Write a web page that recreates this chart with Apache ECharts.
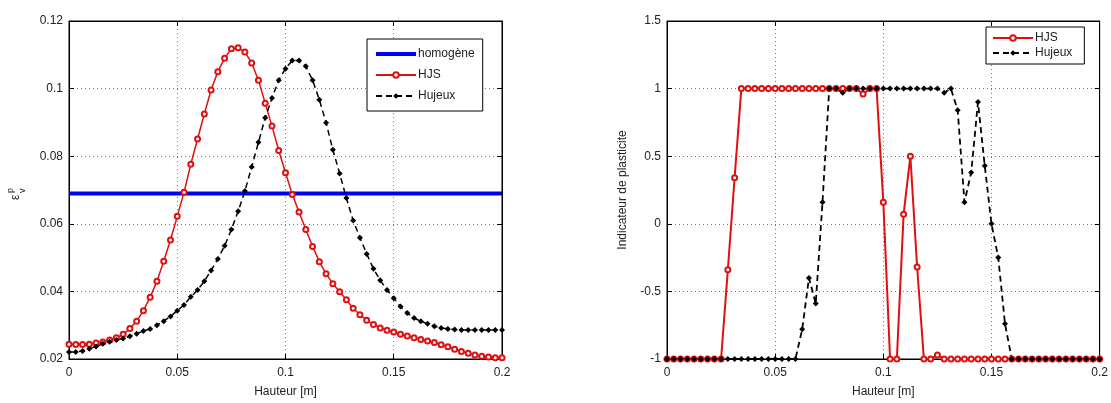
<!DOCTYPE html>
<html>
<head>
<meta charset="utf-8">
<script src="https://cdn.jsdelivr.net/npm/echarts@6/dist/echarts.min.js"></script>
<style>
html,body{margin:0;padding:0;background:#fff;}
#c{width:1111px;height:403px;}
</style>
</head>
<body>
<div id="c"></div>
<script>
// sampling positions along the height (m), 65 samples from 0 to 0.2
const nPts = 65;
const xStep = 0.2 / 64;
const hauteur = Array.from({length: nPts}, (_, i) => +(i * xStep).toFixed(6));

// left panel: volumetric plastic strain
const homogeneValue = 0.069;
const hjsStrain = [
  0.0244,0.0243,0.0243,0.0244,0.0247,0.0250,0.0256,0.0263,0.0273,0.0290,
  0.0312,0.0343,0.0383,0.0430,0.0489,0.0552,0.0622,0.0693,0.0776,0.0851,
  0.0925,0.0996,0.1050,0.1090,0.1118,0.1121,0.1108,0.1076,0.1025,0.0957,
  0.0889,0.0817,0.0751,0.0687,0.0635,0.0583,0.0533,0.0488,0.0452,0.0423,
  0.0399,0.0375,0.0350,0.0331,0.0315,0.0302,0.0292,0.0285,0.0280,0.0273,
  0.0268,0.0263,0.0258,0.0253,0.0249,0.0242,0.0236,0.0229,0.0222,0.0217,
  0.0212,0.0208,0.0206,0.0204,0.0204
];
const hujeuxStrain = [
  0.0221,0.0221,0.0224,0.0230,0.0237,0.0245,0.0251,0.0256,0.0261,0.0267,
  0.0275,0.0283,0.0289,0.0300,0.0312,0.0326,0.0343,0.0360,0.0384,0.0404,
  0.0430,0.0462,0.0496,0.0535,0.0583,0.0637,0.0697,0.0768,0.0841,0.0914,
  0.0972,0.1025,0.1059,0.1083,0.1083,0.1066,0.1025,0.0967,0.0899,0.0819,
  0.0749,0.0676,0.0610,0.0559,0.0511,0.0467,0.0433,0.0404,0.0380,0.0355,
  0.0336,0.0321,0.0312,0.0304,0.0297,0.0292,0.0289,0.0287,0.0286,0.0286,
  0.0286,0.0286,0.0286,0.0286,0.0286
];

// right panel: plasticity indicator
const hjsIndic = [
  -1,-1,-1,-1,-1,-1,-1,-1,-1,-0.34,
  0.34,1,1,1,1,1,1,1,1,1,
  1,1,1,1,1,1,1,1,1,0.96,
  1,1,0.16,-1,-1,0.07,0.5,-0.32,-1,-1,
  -0.97,-1,-1,-1,-1,-1,-1,-1,-1,-1,
  -1,-1,-1,-1,-1,-1,-1,-1,-1,-1,
  -1,-1,-1,-1,-1
];
const hujeuxIndic = [
  -1,-1,-1,-1,-1,-1,-1,-1,-1,-1,
  -1,-1,-1,-1,-1,-1,-1,-1,-1,-1,
  -0.78,-0.4,-0.59,0.16,1,1,0.97,1,1,1,
  1,1,1,1,1,1,1,1,1,1,
  1,0.97,1,0.84,0.16,0.38,0.9,0.43,0,-0.25,
  -0.74,-1,-1,-1,-1,-1,-1,-1,-1,-1,
  -1,-1,-1,-1,-1
];

const xTicks = {min: 0, max: 0.2, interval: 0.05};
const yLeftTicks = {min: 0.02, max: 0.12, interval: 0.02};
const yRightTicks = {min: -1, max: 1.5, interval: 0.5};

const pairs = (ys) => hauteur.map((x, i) => [x, ys[i]]);

const FONT = 'Liberation Sans';
const txt = {fontFamily: FONT, fontSize: 12, color: '#222'};
const dotted = {show: true, lineStyle: {color: '#777', type: [1, 3], width: 1}};
const axLine = {show: true, onZero: false, lineStyle: {color: '#000'}};
const tick = {show: true, inside: true, length: 5, lineStyle: {color: '#000'}};

function mainX(gi) {
  return {
    type: 'value', gridIndex: gi, ...xTicks, position: 'bottom',
    name: 'Hauteur [m]', nameLocation: 'middle', nameGap: 27,
    nameTextStyle: {...txt},
    axisLine: axLine, axisTick: tick,
    axisLabel: {...txt, margin: 8, formatter: v => String(+v.toFixed(2))},
    splitLine: dotted
  };
}
function topX(gi) {
  return {
    type: 'value', gridIndex: gi, ...xTicks, position: 'top',
    axisLine: axLine, axisTick: tick,
    axisLabel: {show: false}, splitLine: {show: false}
  };
}
function mainY(gi, ticks, extra) {
  return Object.assign({
    type: 'value', gridIndex: gi, ...ticks, position: 'left',
    axisLine: axLine, axisTick: tick,
    axisLabel: {...txt, margin: 6, formatter: v => String(+v.toFixed(2))},
    splitLine: dotted
  }, extra || {});
}
function rightY(gi, ticks) {
  return {
    type: 'value', gridIndex: gi, ...ticks, position: 'right',
    axisLine: axLine, axisTick: tick,
    axisLabel: {show: false}, splitLine: {show: false}
  };
}

const RED = '#e01010';
const BLUE = '#0000f0';
const thickIcon = 'path://M0,0 L40,0 L40,4 L0,4 Z';

const option = {
  animation: false,
  backgroundColor: '#fff',
  grid: [
    {left: 69, right: 1111 - 502, top: 21, bottom: 403 - 362, show: true, borderColor: '#000', borderWidth: 1},
    {left: 667, right: 1111 - 1103, top: 21, bottom: 403 - 363, show: true, borderColor: '#000', borderWidth: 1}
  ],
  xAxis: [mainX(0), mainX(1), topX(0), topX(1)],
  yAxis: [
    mainY(0, yLeftTicks),
    mainY(1, yRightTicks, {
      name: 'Indicateur de plasticite', nameLocation: 'middle', nameGap: 38,
      nameRotate: 90, nameTextStyle: {...txt}
    }),
    rightY(0, yLeftTicks),
    rightY(1, yRightTicks)
  ],
  legend: [
    {
      data: [{name: 'homogène', icon: thickIcon}, 'HJS', 'Hujeux'], orient: 'vertical',
      left: 367, top: 39, itemWidth: 40, itemHeight: 7, itemGap: 9,
      padding: [9, 8, 9, 8], borderColor: '#000', borderWidth: 1,
      backgroundColor: '#fff', borderRadius: 0,
      textStyle: {...txt, fontSize: 12, padding: [0, 0, 0, -3]}, selectedMode: false
    },
    {
      data: ['HJS', 'Hujeux'], orient: 'vertical',
      left: 986, top: 27, itemWidth: 40, itemHeight: 7, itemGap: 3,
      padding: [5, 12, 5, 6], borderColor: '#000', borderWidth: 1,
      backgroundColor: '#fff', borderRadius: 0,
      textStyle: {...txt, fontSize: 12, padding: [0, 0, 0, -3]}, selectedMode: false
    }
  ],
  graphic: [{
    type: 'group', x: 17, y: 194, rotation: Math.PI / 2,
    children: [
      {type: 'text', x: -6, y: -7, style: {text: 'ε', font: '12px "Liberation Sans"', fill: '#222'}},
      {type: 'text', x: 1, y: -11, style: {text: 'p', font: '9px "Liberation Sans"', fill: '#222'}},
      {type: 'text', x: 1, y: 1, style: {text: 'v', font: '9px "Liberation Sans"', fill: '#222'}}
    ]
  }],
  series: [
    {
      name: 'homogène', type: 'line', xAxisIndex: 0, yAxisIndex: 0,
      data: pairs(hauteur.map(() => homogeneValue)),
      showSymbol: false, symbol: 'none',
      lineStyle: {color: BLUE, width: 4}, itemStyle: {color: BLUE}
    },
    {
      name: 'HJS', type: 'line', xAxisIndex: 0, yAxisIndex: 0,
      data: pairs(hjsStrain), symbol: 'emptyCircle', symbolSize: 5,
      lineStyle: {color: RED, width: 1.5}, itemStyle: {color: RED, borderWidth: 1.2}
    },
    {
      name: 'Hujeux', type: 'line', xAxisIndex: 0, yAxisIndex: 0,
      data: pairs(hujeuxStrain), symbol: 'diamond', symbolSize: 6,
      lineStyle: {color: '#000', width: 1.5, type: [6, 4]}, itemStyle: {color: '#000'}
    },
    {
      name: 'HJS', type: 'line', xAxisIndex: 1, yAxisIndex: 1,
      data: pairs(hjsIndic), symbol: 'emptyCircle', symbolSize: 5,
      lineStyle: {color: RED, width: 2}, itemStyle: {color: RED, borderWidth: 1.2}
    },
    {
      name: 'Hujeux', type: 'line', xAxisIndex: 1, yAxisIndex: 1,
      data: pairs(hujeuxIndic), symbol: 'diamond', symbolSize: 6,
      lineStyle: {color: '#000', width: 1.8, type: [6, 4]}, itemStyle: {color: '#000'}
    }
  ]
};

const chart = echarts.init(document.getElementById('c'), null, {renderer: 'canvas'});
chart.setOption(option);
</script>
</body>
</html>
